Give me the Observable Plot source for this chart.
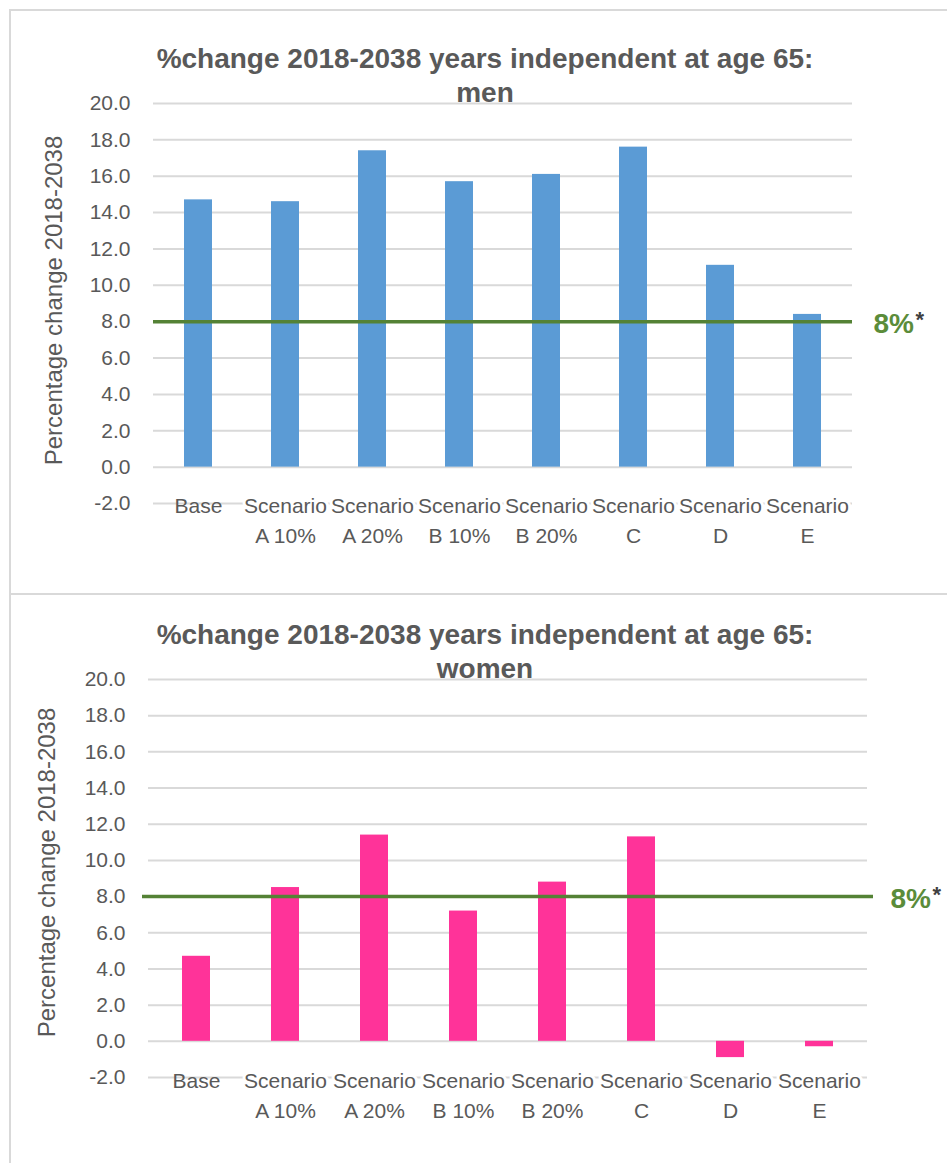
<!DOCTYPE html>
<html>
<head>
<meta charset="utf-8">
<script src="https://cdn.jsdelivr.net/npm/d3@7"></script>
<script src="https://cdn.jsdelivr.net/npm/@observablehq/plot@0.6"></script>
<style>
  html, body { margin: 0; padding: 0; background: #fff; }
  body { width: 947px; height: 1163px; overflow: hidden; position: relative; font-family: "Liberation Sans", Arial, sans-serif; }
  .chart { position: absolute; left: 0; }
  .box { position: absolute; left: 9px; width: 1000px; border: 2px solid #d9d9d9; box-sizing: border-box; pointer-events: none; }
  .title { position: absolute; left: 0; width: 970px; text-align: center; font-weight: bold; font-size: 28px; line-height: 28px; color: #595959; white-space: nowrap; }
</style>
</head>
<body>
<div id="c1" class="chart" style="top:0px"></div>
<div id="c2" class="chart" style="top:593px"></div>
<div class="box" style="top:9px;height:586px"></div>
<div class="box" style="top:593px;height:620px"></div>
<div class="title" style="top:45px">%change 2018-2038 years independent at age 65:</div>
<div class="title" style="top:79px">men</div>
<div class="title" style="top:621px">%change 2018-2038 years independent at age 65:</div>
<div class="title" style="top:655px">women</div>
<script>
// ---- data ----
const categories = ["Base", "Scenario A 10%", "Scenario A 20%", "Scenario B 10%", "Scenario B 20%", "Scenario C", "Scenario D", "Scenario E"];
const categoryLabels = ["Base", "Scenario\nA 10%", "Scenario\nA 20%", "Scenario\nB 10%", "Scenario\nB 20%", "Scenario\nC", "Scenario\nD", "Scenario\nE"];
const menValues = [14.7, 14.6, 17.4, 15.7, 16.1, 17.6, 11.1, 8.4];
const womenValues = [4.7, 8.5, 11.4, 7.2, 8.8, 11.3, -0.9, -0.3];
const targetValue = [8];
const targetLabel = "8%";
const yTicks = [-2, 0, 2, 4, 6, 8, 10, 12, 14, 16, 18, 20];
const yAxisLabel = "Percentage change 2018-2038";

const gray = "#595959";
const green = "#548235";

function makeChart(values, cfg) {
  const data = categories.map((c, i) => ({category: c, label: categoryLabels[i], value: values[i]}));
  return Plot.plot({
    width: 947,
    height: cfg.height,
    marginLeft: cfg.marginLeft,
    marginRight: cfg.marginRight,
    marginTop: cfg.marginTop,
    marginBottom: cfg.marginBottom,
    style: {fontFamily: '"Liberation Sans", Arial, sans-serif', background: "transparent", overflow: "visible"},
    x: {domain: categories, paddingInner: 0.68, paddingOuter: 0.34, axis: null},
    y: {domain: [yTicks[0], yTicks[yTicks.length - 1]], axis: null},
    marks: [
      Plot.gridY(yTicks, {stroke: "#d9d9d9", strokeOpacity: 1, strokeWidth: 2}),
      Plot.barY(data, {x: "category", y: "value", fill: cfg.color}),
      Plot.ruleY(targetValue, {stroke: green, strokeWidth: 3.5, insetLeft: cfg.ruleInset, insetRight: cfg.ruleInset}),
      Plot.axisY(yTicks, {tickSize: 0, tickPadding: 23, tickFormat: d => d.toFixed(1), fontSize: 21, color: gray, label: null}),
      Plot.text(data.filter(d => d.category === "Base"), {
        x: "category", y: () => yTicks[0], text: "label", lineAnchor: "top", dy: cfg.xlabDy,
        fontSize: 21, fill: gray, lineHeight: 1.43
      }),
      Plot.text(data.filter(d => d.category !== "Base"), {
        x: "category", y: () => yTicks[0], text: "label", lineAnchor: "top", dy: cfg.xlabDy,
        fontSize: 21, fill: gray, lineHeight: 1.43, stroke: "white", strokeWidth: 6, paintOrder: "stroke"
      }),
      Plot.text([yAxisLabel], {
        frameAnchor: "left", rotate: -90, dx: cfg.ylabDx, dy: cfg.ylabDy, text: d => d,
        fontSize: 24, fill: gray, textAnchor: "middle", lineAnchor: "middle"
      }),
      Plot.text(targetValue, {
        y: d => d, frameAnchor: "right", dx: cfg.labelDx, dy: cfg.labelDy, text: () => targetLabel,
        textAnchor: "start", lineAnchor: "middle", fontSize: 28, fontWeight: "bold", fill: "#5b8c3a"
      }),
      Plot.text(targetValue, {
        y: d => d, frameAnchor: "right", dx: cfg.labelDx + 42, dy: cfg.labelDy - 4, text: () => "*",
        textAnchor: "start", lineAnchor: "middle", fontSize: 22, fontWeight: "bold", fill: "#404040"
      })
    ]
  });
}

document.getElementById("c1").append(makeChart(menValues, {
  color: "#5b9bd5", height: 593, marginLeft: 153, marginRight: 95, marginTop: 103, marginBottom: 90,
  ruleInset: 0, labelDx: 21, labelDy: 2, ylabDx: -99, ylabDy: -3, xlabDy: -12
}));
document.getElementById("c2").append(makeChart(womenValues, {
  color: "#ff3399", height: 570, marginLeft: 148, marginRight: 80, marginTop: 86, marginBottom: 86,
  ruleInset: -6, labelDx: 23, labelDy: 2, ylabDx: -101, ylabDy: -6, xlabDy: -11
}));
</script>
</body>
</html>
